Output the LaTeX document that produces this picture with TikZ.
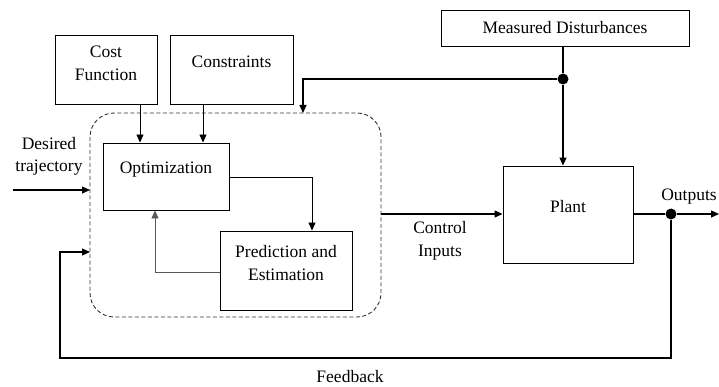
\documentclass[tikz,border=0pt]{standalone}
\usepackage{fontspec}
\setmainfont{Liberation Serif}
\usetikzlibrary{arrows.meta,positioning,calc}
\begin{document}
\begin{tikzpicture}[x=1pt,y=-1pt,
  box/.style={draw,line width=0.9pt,inner sep=0pt,font=\fontsize{17.5}{22.5}\selectfont,align=center},
  lbl/.style={inner sep=0pt,font=\fontsize{17.5}{22.5}\selectfont,align=center},
  arr/.style={line width=1.2pt,-{Triangle[length=8pt,width=7pt]}},
  thinarr/.style={line width=0.8pt,-{Triangle[length=8pt,width=7pt]}},
  dot/.style={circle,fill,inner sep=0pt,minimum size=11pt}]
\useasboundingbox (0,0) rectangle (719,387);
% dashed controller region
\draw[dash pattern=on 4pt off 2.5pt,line width=0.9pt,gray!40!black,rounded corners=24pt] (90,113) rectangle (381,317);
\coordinate (dtop) at (303,113);
\coordinate (dleft) at (90,190);
\coordinate (dleft2) at (90,252);
\coordinate (dright) at (381,214);
% boxes
\node[box,minimum width=102pt,minimum height=69pt] (cost) at (106,69.5) {};
\node[lbl] (costt) at (106,63.5) {Cost\\Function};
\node[box,minimum width=123pt,minimum height=69pt] (cons) at (231.5,69.5) {};
\node[lbl] (const) at (231.5,62) {Constraints};
\node[box,minimum width=126pt,minimum height=67pt] (opt) at (166,176.5) {};
\node[lbl] (optt) at (166,170) {Optimization};
\node[box,minimum width=132pt,minimum height=79pt] (pred) at (286,270.5) {};
\node[lbl] (predt) at (286,263) {Prediction and\\Estimation};
\node[box,minimum width=248pt,minimum height=36pt] (md) at (565,28) {Measured Disturbances};
\node[box,minimum width=130pt,minimum height=97pt] (plant) at (568,214.5) {};
\node[lbl] (plantt) at (568,207) {Plant};
% junctions
\node[dot] (j1) at (563,79) {};
\node[dot] (j2) at (671,214) {};
\coordinate (out) at (719,214);
\coordinate (din) at (13,190);
% connectors
\draw[thinarr] (cost.south -| 140,0) -- (opt.north -| 140,0);
\draw[thinarr] (cons.south -| 203,0) -- (opt.north -| 203,0);
\draw[thinarr] (opt.east |- 0,177) -| (pred.north -| 312,0);
\draw[thinarr,draw=gray!70!black] (pred.west |- 0,272) -| (opt.south -| 155,0);
\draw[line width=1.2pt] (md.south -| j1) -- (j1);
\draw[arr] (j1) -- (plant.north -| j1);
\draw[arr] (j1) -| (dtop);
\draw[arr] (dright) -- (plant.west |- dright);
\draw[line width=1.2pt] (plant.east |- j2) -- (j2);
\draw[arr] (j2) -- (out);
\draw[arr] (j2) |- (60,358) |- (dleft2);
\draw[arr] (din) -- (dleft);
% labels
\node[lbl] (desired) at (49,156.5) {Desired\\trajectory};
\node[lbl] (ci) at (440,241) {Control\\Inputs};
\node[lbl] (outl) at (689,197) {Outputs};
\node[lbl] (fb) at (350,377) {Feedback};
\end{tikzpicture}
\end{document}
